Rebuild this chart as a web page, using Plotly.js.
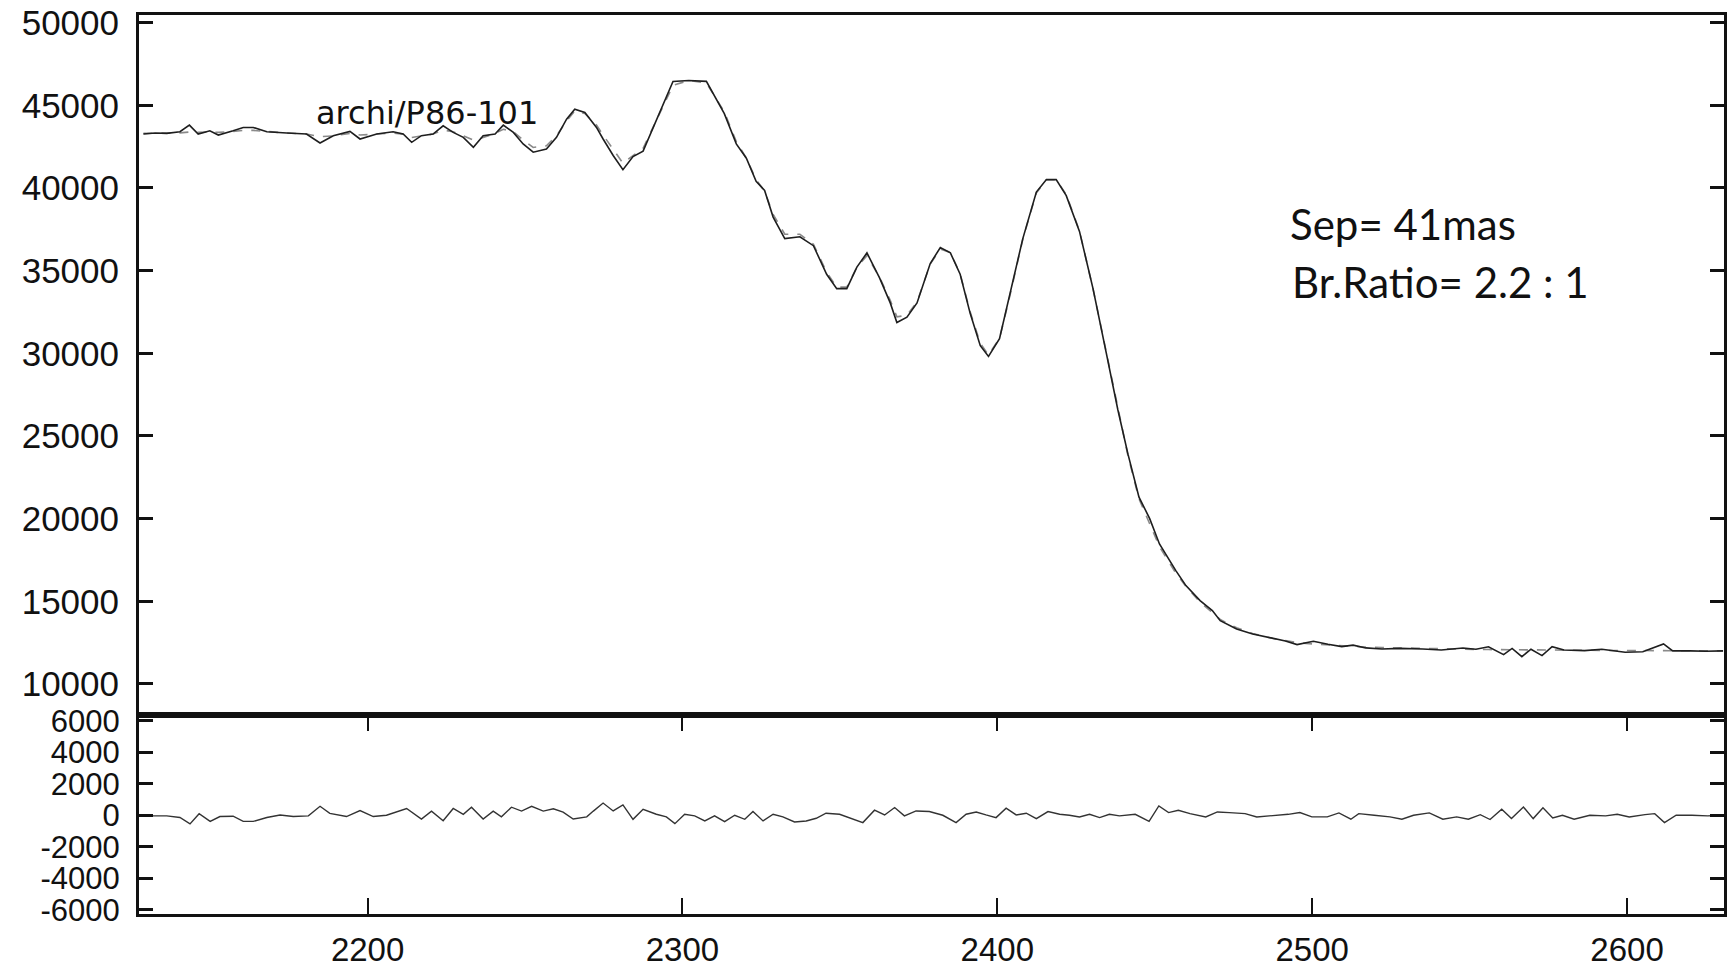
<!DOCTYPE html>
<html>
<head>
<meta charset="utf-8">
<script src="https://cdn.plot.ly/plotly-3.0.1.min.js"></script>
<style>html,body{margin:0;padding:0;background:#fff;}#chart{width:1733px;height:968px;}</style>
</head>
<body>
<div id="chart"></div>
<script>
// Wavelength grid of the upper panel
const wavelength = [2128.8, 2132.5, 2136.2, 2140.4, 2143.4, 2146.2, 2149.9, 2152.6, 2157.3, 2160.5,
  2163.7, 2168.0, 2174.3, 2180.6, 2184.9, 2189.1, 2194.4, 2197.6, 2202.9, 2208.1,
  2211.3, 2214.0, 2217.1, 2220.8, 2224.0, 2227.2, 2230.4, 2233.6, 2236.7, 2240.5,
  2243.1, 2246.3, 2249.4, 2252.6, 2256.8, 2260.0, 2263.2, 2265.8, 2269.0, 2272.7,
  2274.8, 2278.0, 2281.1, 2284.3, 2287.5, 2292.0, 2297.0, 2302.0, 2307.6, 2313.3,
  2317.1, 2320.3, 2323.4, 2326.1, 2328.8, 2332.5, 2337.3, 2341.6, 2345.8, 2349.0,
  2352.2, 2355.4, 2358.6, 2362.6, 2366.0, 2368.1, 2371.3, 2374.5, 2378.7, 2381.9,
  2385.1, 2388.2, 2391.4, 2394.6, 2397.2, 2400.7, 2403.9, 2408.1, 2412.4, 2415.6,
  2418.7, 2421.9, 2426.1, 2430.4, 2434.6, 2438.3, 2441.5, 2445.0, 2448.4, 2451.5,
  2456.7, 2459.9, 2464.4, 2468.3, 2470.8, 2476.0, 2481.1, 2487.5, 2491.5, 2495.2,
  2500.4, 2505.0, 2509.4, 2513.0, 2517.0, 2522.2, 2528.0, 2535.1, 2541.0, 2547.9,
  2552.0, 2556.0, 2560.8, 2563.5, 2566.6, 2569.5, 2573.0, 2576.2, 2580.0, 2586.5,
  2592.0, 2599.4, 2605.0, 2611.6, 2614.5, 2620.0, 2625.0, 2630.5];

// Observed flux (solid line)
const fluxData = [43260, 43320, 43300, 43400, 43800, 43260, 43460, 43200, 43460, 43660,
  43660, 43400, 43320, 43260, 42720, 43160, 43420, 42960, 43260, 43400,
  43260, 42760, 43160, 43260, 43760, 43360, 43060, 42460, 43160, 43260,
  43800, 43360, 42660, 42160, 42360, 43060, 44160, 44760, 44560, 43660,
  42960, 41960, 41100, 41900, 42228, 44200, 46444, 46500, 46444, 44497,
  42665, 41800, 40397, 39852, 38237, 36937, 37047, 36507, 34778, 33913,
  33913, 35213, 36072, 34560, 33048, 31862, 32189, 33048, 35425, 36399,
  36072, 34778, 32401, 30459, 29812, 30889, 33483, 36937, 39750, 40505,
  40505, 39532, 37372, 33913, 30024, 26570, 23900, 21300, 20000, 18468,
  16855, 15948, 15040, 14435, 13830, 13326, 13024, 12782, 12600, 12379,
  12580, 12400, 12258, 12350, 12180, 12117, 12150, 12117, 12050, 12177,
  12100, 12250, 11774, 12150, 11653, 12100, 11714, 12258, 12050, 12016,
  12100, 11915, 11950, 12419, 12000, 12000, 11976, 12000];

// Binary model fit (dashed line)
const fluxModel = [43300, 43300, 43310, 43330, 43380, 43360, 43380, 43360, 43420, 43480,
  43480, 43400, 43320, 43260, 43100, 43150, 43300, 43200, 43250, 43320,
  43250, 43050, 43150, 43260, 43500, 43400, 43150, 42900, 43050, 43300,
  43550, 43400, 42900, 42450, 42550, 43150, 44050, 44650, 44500, 43800,
  43200, 42300, 41500, 41950, 42400, 44200, 46200, 46500, 46350, 44600,
  42800, 41800, 40500, 39800, 38400, 37200, 37200, 36600, 34900, 34000,
  34000, 35200, 35900, 34600, 33200, 32200, 32300, 33100, 35400, 36300,
  36100, 34800, 32500, 30600, 29900, 30900, 33400, 36900, 39700, 40500,
  40500, 39600, 37400, 33900, 30000, 26600, 23800, 21200, 19700, 18300,
  16700, 15900, 14950, 14300, 13900, 13400, 13050, 12750, 12600, 12500,
  12420, 12360, 12310, 12270, 12230, 12200, 12170, 12140, 12120, 12100,
  12090, 12080, 12070, 12060, 12060, 12050, 12050, 12040, 12040, 12030,
  12030, 12020, 12020, 12010, 12010, 12000, 12000, 12000];

// Residuals (lower panel)
const residX = [2127.7, 2136.2, 2140.4, 2143.6, 2146.5, 2150.0, 2153.1, 2157.3, 2160.5, 2163.7,
  2168.0, 2172.2, 2176.4, 2181.2, 2184.9, 2188.0, 2193.3, 2197.6, 2201.8, 2206.0,
  2212.4, 2217.1, 2220.3, 2224.0, 2227.2, 2230.4, 2233.0, 2236.7, 2239.9, 2242.5,
  2245.7, 2248.9, 2252.1, 2255.8, 2259.0, 2262.1, 2265.3, 2269.6, 2271.7, 2274.8,
  2278.0, 2281.1, 2284.3, 2287.5, 2291.7, 2294.9, 2297.6, 2300.7, 2303.9, 2307.1,
  2310.2, 2313.4, 2316.6, 2319.8, 2322.4, 2325.6, 2328.8, 2331.9, 2335.6, 2339.3,
  2342.5, 2345.6, 2349.9, 2353.0, 2357.3, 2361.0, 2364.2, 2367.4, 2370.5, 2374.2,
  2378.4, 2382.7, 2386.9, 2390.1, 2393.3, 2396.4, 2399.6, 2402.8, 2406.0, 2409.2,
  2412.4, 2416.1, 2419.8, 2422.9, 2426.1, 2429.3, 2432.5, 2435.6, 2438.8, 2443.8,
  2448.2, 2451.3, 2454.4, 2457.5, 2461.2, 2466.2, 2469.9, 2473.7, 2478.7, 2482.4,
  2487.4, 2492.4, 2496.1, 2499.9, 2504.8, 2508.5, 2512.3, 2514.8, 2519.7, 2524.7,
  2528.5, 2532.2, 2537.2, 2541.5, 2545.9, 2549.6, 2553.4, 2556.5, 2560.2, 2563.3,
  2567.1, 2570.2, 2573.3, 2576.4, 2579.5, 2583.2, 2588.2, 2593.2, 2596.9, 2600.7,
  2605.7, 2608.8, 2611.9, 2615.6, 2620.6, 2625.6, 2630.6];
const residVals = [-40, -40, -140, -550, 100, -390, -80, -60, -390, -390,
  -140, 20, -80, -40, 570, 120, -80, 300, -80, 0,
  430, -240, 265, -350, 430, 60, 510, -240, 265, -100,
  510, 265, 570, 265, 410, 200, -240, -100, 265, 775,
  275, 660, -255, 380, 65, -105, -530, 65, -40, -360,
  -40, -400, 0, -255, 235, -360, 65, -105, -425, -360,
  -190, 130, 65, -150, -465, 320, 20, 490, -40, 275,
  235, 0, -465, 65, 210, 20, -150, 445, 20, 130,
  -210, 235, 65, 0, -105, 65, -150, 65, -40, 60,
  -380, 590, 170, 320, 105, -105, 210, 170, 105, -105,
  -40, 60, 170, -105, -105, 150, -250, 105, 0, -105,
  -250, 0, 150, -250, -105, -250, 40, -270, 380, -210,
  525, -210, 480, -170, 0, -250, 0, -40, 60, -105,
  40, 105, -465, 0, 0, -40, 0];

// Tick values
const xTicks = [2200, 2300, 2400, 2500, 2600];
const yTicksUpper = [10000, 15000, 20000, 25000, 30000, 35000, 40000, 45000, 50000];
const yTicksLower = [-6000, -4000, -2000, 0, 2000, 4000, 6000];

const labelText = 'archi/P86-101';
const infoLine1 = 'Sep= 41mas';
const infoLine2 = 'Br.Ratio= 2.2 : 1';

const fam = 'Liberation Sans, Arial, sans-serif';
const upperFont = {family: fam, size: 35, color: '#111'};
const lowerFont = {family: fam, size: 31, color: '#111'};
const xFont = {family: fam, size: 33, color: '#111'};
const split = 0.2214;

const traces = [
  {x: wavelength, y: fluxModel, xaxis: 'x', yaxis: 'y', mode: 'lines',
   line: {color: '#8a8a8a', width: 1.6, dash: 'dash'}, hoverinfo: 'skip'},
  {x: wavelength, y: fluxData, xaxis: 'x', yaxis: 'y', mode: 'lines',
   line: {color: '#1e1e1e', width: 1.6}},
  {x: residX, y: residVals, xaxis: 'x2', yaxis: 'y2', mode: 'lines',
   line: {color: '#333', width: 1.4}}
];

const frame = {showline: true, linecolor: '#111', linewidth: 3, showgrid: false, zeroline: false};

const layout = {
  width: 1733, height: 968,
  margin: {l: 139, r: 9, t: 15, b: 54, pad: 0},
  paper_bgcolor: '#fff', plot_bgcolor: '#fff',
  showlegend: false,
  xaxis: Object.assign({}, frame, {domain: [0, 1], anchor: 'y', range: [2127.4, 2630.8],
    mirror: true, ticks: '', showticklabels: false}),
  yaxis: Object.assign({}, frame, {domain: [split, 1], anchor: 'x', range: [8125, 50460],
    tickmode: 'array', tickvals: yTicksUpper, ticktext: yTicksUpper.map(String),
    ticks: 'inside', ticklen: 14, tickwidth: 3, tickcolor: '#111', mirror: 'ticks',
    tickfont: upperFont, ticklabelstandoff: 10}),
  xaxis2: Object.assign({}, frame, {domain: [0, 1], anchor: 'y2', range: [2127.4, 2630.8],
    tickmode: 'array', tickvals: xTicks, ticktext: xTicks.map(String),
    ticks: 'inside', ticklen: 16, tickwidth: 2, tickcolor: '#111', mirror: 'ticks',
    tickfont: xFont, ticklabelstandoff: 4}),
  yaxis2: Object.assign({}, frame, {domain: [0, split], anchor: 'x2', range: [-6260, 6360],
    tickmode: 'array', tickvals: yTicksLower, ticktext: yTicksLower.map(String),
    ticks: 'inside', ticklen: 14, tickwidth: 3, tickcolor: '#111', mirror: 'ticks',
    tickfont: lowerFont, ticklabelstandoff: 10}),
  annotations: [
    {text: labelText, xref: 'x', yref: 'y', x: 2219, y: 44530, xanchor: 'center', yanchor: 'middle',
     showarrow: false, font: {family: 'DejaVu Sans, sans-serif', size: 32, color: '#111'}},
    {text: infoLine1, xref: 'paper', yref: 'paper', x: (1288 - 139) / 1585, y: 1 - (224 - 15) / 899,
     xanchor: 'left', yanchor: 'middle', showarrow: false,
     font: {family: 'Lato, sans-serif', size: 42, color: '#111'}},
    {text: infoLine2, xref: 'paper', yref: 'paper', x: (1290 - 139) / 1585, y: 1 - (282 - 15) / 899,
     xanchor: 'left', yanchor: 'middle', showarrow: false,
     font: {family: 'Lato, sans-serif', size: 42, color: '#111'}}
  ]
};

Plotly.newPlot('chart', traces, layout, {displayModeBar: false, staticPlot: true});
</script>
</body>
</html>
